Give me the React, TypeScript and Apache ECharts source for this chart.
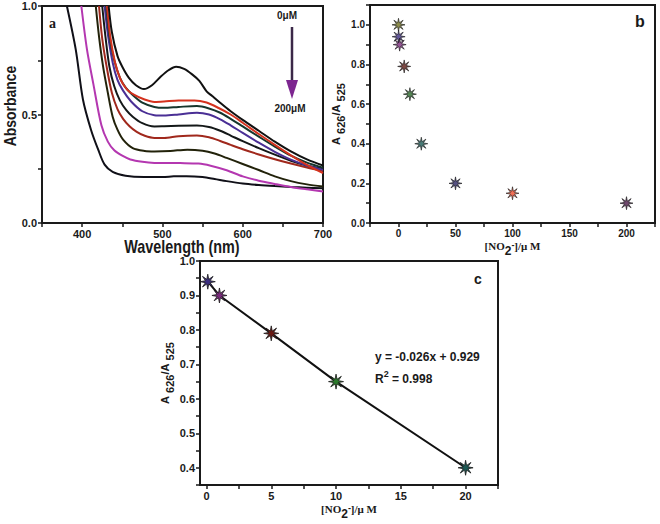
import React, { useEffect, useRef } from "react";
import * as echarts from "echarts";

// ---- Panel a: absorption spectra (wavelength nm, absorbance) ----
const concentrationsUM = ["0", "0.1", "1", "5", "10", "20", "50", "100", "200"];
const spectrum0 = [[433, 1.0], [437, 0.88], [444, 0.77], [450, 0.72], [458, 0.67], [467, 0.635], [477, 0.617], [487, 0.635], [498, 0.675], [508, 0.705], [517, 0.72], [527, 0.71], [537, 0.685], [546, 0.655], [555, 0.607], [562, 0.585], [570, 0.56], [585, 0.515], [600, 0.475], [620, 0.425], [640, 0.375], [660, 0.33], [680, 0.293], [700, 0.265]];
const spectrum01 = [[431, 1.0], [435, 0.86], [441, 0.74], [448, 0.66], [456, 0.615], [465, 0.59], [477, 0.57], [490, 0.558], [502, 0.56], [520, 0.565], [540, 0.565], [555, 0.555], [570, 0.53], [585, 0.5], [600, 0.462], [620, 0.41], [640, 0.36], [660, 0.312], [680, 0.268], [700, 0.23]];
const spectrum1 = [[430, 1.0], [434, 0.86], [440, 0.75], [447, 0.67], [454, 0.625], [463, 0.59], [475, 0.555], [490, 0.535], [502, 0.531], [520, 0.535], [543, 0.539], [558, 0.528], [572, 0.508], [585, 0.48], [600, 0.445], [620, 0.398], [640, 0.352], [660, 0.31], [680, 0.278], [700, 0.255]];
const spectrum5 = [[428, 1.0], [432, 0.87], [438, 0.74], [444, 0.66], [451, 0.61], [461, 0.56], [475, 0.515], [490, 0.497], [502, 0.495], [520, 0.5], [543, 0.508], [558, 0.5], [572, 0.478], [585, 0.45], [600, 0.415], [620, 0.37], [640, 0.328], [660, 0.292], [680, 0.265], [700, 0.245]];
const spectrum10 = [[425, 1.0], [429, 0.86], [434, 0.72], [440, 0.63], [447, 0.565], [455, 0.52], [463, 0.49], [475, 0.46], [490, 0.445], [502, 0.446], [520, 0.448], [543, 0.449], [558, 0.442], [572, 0.425], [585, 0.403], [600, 0.377], [620, 0.345], [640, 0.315], [660, 0.287], [680, 0.265], [700, 0.25]];
const spectrum20 = [[421, 1.0], [425, 0.85], [431, 0.71], [437, 0.6], [444, 0.525], [451, 0.48], [459, 0.446], [468, 0.42], [478, 0.402], [490, 0.392], [502, 0.392], [520, 0.4], [543, 0.403], [558, 0.395], [572, 0.378], [585, 0.36], [600, 0.34], [620, 0.316], [640, 0.294], [660, 0.274], [680, 0.256], [700, 0.24]];
const spectrum50 = [[417, 1.0], [421, 0.86], [426, 0.723], [432, 0.6], [438, 0.49], [444, 0.43], [451, 0.384], [463, 0.345], [478, 0.332], [490, 0.33], [510, 0.332], [531, 0.338], [550, 0.333], [565, 0.32], [580, 0.3], [600, 0.272], [620, 0.244], [640, 0.215], [660, 0.193], [680, 0.178], [700, 0.168]];
const spectrum100 = [[399, 1.0], [406, 0.8], [414, 0.64], [424, 0.45], [432, 0.375], [440, 0.335], [450, 0.31], [460, 0.293], [475, 0.282], [490, 0.277], [522, 0.276], [545, 0.274], [560, 0.264], [580, 0.243], [600, 0.215], [620, 0.195], [640, 0.18], [660, 0.166], [680, 0.155], [700, 0.145]];
const spectrum200 = [[381, 1.0], [392, 0.8], [401, 0.569], [411, 0.43], [420, 0.338], [428, 0.269], [438, 0.236], [454, 0.218], [477, 0.212], [500, 0.212], [514, 0.215], [530, 0.216], [550, 0.212], [565, 0.203], [580, 0.193], [600, 0.182], [620, 0.175], [640, 0.17], [660, 0.166], [680, 0.163], [700, 0.16]];
const spectra = [spectrum0, spectrum01, spectrum1, spectrum5, spectrum10, spectrum20, spectrum50, spectrum100, spectrum200];
const spectrumColors = ["#111111", "#d4321e", "#16352c", "#4a2f95", "#141818", "#a0281c", "#22220a", "#b437b0", "#101018"];

// ---- Panel b: ratio vs nitrite ----
const nitriteUM = [0, 0.1, 1, 5, 10, 20, 50, 100, 200];
const ratioValues = [1.0, 0.94, 0.9, 0.79, 0.65, 0.4, 0.2, 0.15, 0.1];
const ratioColors = ["#6e6e1e", "#3c2e80", "#7a2a7c", "#5c1a14", "#2c6a2c", "#1c5a55", "#2a2662", "#ee4a2a", "#4c1c4a"];

// ---- Panel c: linear range ----
const linearX = [0.1, 1, 5, 10, 20];
const linearY = [0.94, 0.9, 0.79, 0.65, 0.4];
const linearColors = ["#3c2e80", "#7a2a7c", "#6a1a14", "#2c7a2c", "#1c5a55"];

const xLabelC = [0, 5, 10, 15, 20];
const xTickC = [0, 2.5, 5, 7.5, 10, 12.5, 15, 17.5, 20, 22.5];

const STAR = "path://M10 0L11.3 6.9L17.07 2.93L13.1 8.7L20 10L13.1 11.3L17.07 17.07L11.3 13.1L10 20L8.7 13.1L2.93 17.07L6.9 11.3L0 10L6.9 8.7L2.93 2.93L8.7 6.9Z";

const SANS = "Liberation Sans, Arial, sans-serif";
const SERIF = "Liberation Serif, Times New Roman, serif";
const INK = "#1a1a1a";

function axisBase(fontSize: number) {
  return {
    axisLine: { show: true, onZero: false, lineStyle: { color: INK, width: 2 } },
    axisTick: { show: true, length: 4, lineStyle: { color: INK, width: 1.5 } },
    axisLabel: { color: INK, fontWeight: "bold", fontSize, fontFamily: SANS, margin: 5 },
    splitLine: { show: false },
  };
}

const ratioName = {
  formatter: "{a|A}{s| 626}{a|/A}{s| 525}",
  rich: {
    a: { fontFamily: SANS, fontWeight: "bold", fontSize: 11, color: INK, lineHeight: 16, verticalAlign: "top" },
    s: { fontFamily: SANS, fontWeight: "bold", fontSize: 11, color: INK, lineHeight: 16, verticalAlign: "bottom", padding: [5, 0, 0, 0] },
  },
};

const nitriteName = {
  formatter: "{t|[NO}{sub|2}{sup|-}{t|]/μ M}",
  rich: {
    t: { fontFamily: SERIF, fontWeight: "bold", fontSize: 11, color: INK, lineHeight: 16, verticalAlign: "top" },
    sub: { fontFamily: SANS, fontWeight: "bold", fontSize: 12, color: INK, lineHeight: 16, verticalAlign: "bottom", padding: [6, 0, 0, 0] },
    sup: { fontFamily: SANS, fontWeight: "bold", fontSize: 9, color: INK, lineHeight: 16, verticalAlign: "top" },
  },
};

export default function App() {
  const ref = useRef<HTMLDivElement>(null);
  useEffect(() => {
    if (!ref.current) return;
    const chart = echarts.init(ref.current, undefined, { renderer: "svg" });
    const frame = { show: true, borderColor: INK, borderWidth: 2, backgroundColor: "transparent" };
    const option: any = {
      animation: false,
      backgroundColor: "#ffffff",
      grid: [
        { left: 42, top: 6, width: 281, height: 217, ...frame },
        { left: 370, top: 5, width: 285, height: 218, ...frame },
        { left: 200, top: 261, width: 298, height: 224, ...frame },
      ],
      xAxis: [
        {
          gridIndex: 0, type: "value", min: 350, max: 700, interval: 50,
          ...axisBase(11),
          axisLabel: { ...axisBase(11).axisLabel, formatter: (v: number) => (v % 100 === 0 ? String(v) : "") },
        },
        {
          gridIndex: 1, type: "value", min: -25, max: 225, interval: 25,
          ...axisBase(10),
          axisLabel: { ...axisBase(10).axisLabel, formatter: (v: number) => (v % 50 === 0 ? String(v) : "") },
          name: nitriteName.formatter, nameLocation: "middle", nameGap: 16,
          nameTextStyle: { rich: nitriteName.rich },
        },
        {
          gridIndex: 2, type: "value", min: -0.5, max: 22.5,
          ...axisBase(11),
          axisTick: { ...axisBase(11).axisTick, customValues: xTickC },
          axisLabel: { ...axisBase(11).axisLabel, customValues: xLabelC, formatter: (v: number) => String(v) },
          name: nitriteName.formatter, nameLocation: "middle", nameGap: 17,
          nameTextStyle: { rich: nitriteName.rich },
        },
      ],
      yAxis: [
        {
          gridIndex: 0, type: "value", min: 0, max: 1, interval: 0.25,
          ...axisBase(11),
          axisLabel: { ...axisBase(11).axisLabel, formatter: (v: number) => (Math.round(v * 100) % 50 === 0 ? v.toFixed(1) : "") },
        },
        {
          gridIndex: 1, type: "value", min: 0, max: 1.1, interval: 0.1,
          ...axisBase(10),
          axisLabel: { ...axisBase(10).axisLabel, formatter: (v: number) => (Math.round(v * 10) % 2 === 0 && v < 1.05 ? v.toFixed(1) : "") },
          name: ratioName.formatter, nameLocation: "middle", nameGap: 24, nameRotate: 90,
          nameTextStyle: { rich: ratioName.rich },
        },
        {
          gridIndex: 2, type: "value", min: 0.35, max: 1.0, interval: 0.05,
          ...axisBase(11),
          axisLabel: { ...axisBase(11).axisLabel, formatter: (v: number) => (Math.round(v * 100) % 10 === 0 ? v.toFixed(1) : "") },
          name: ratioName.formatter, nameLocation: "middle", nameGap: 23, nameRotate: 90,
          nameTextStyle: { rich: ratioName.rich },
        },
      ],
      series: [
        ...spectra.map((d, i) => ({
          type: "line", name: concentrationsUM[i] + " μM", xAxisIndex: 0, yAxisIndex: 0,
          data: d, showSymbol: false, smooth: 0.3, clip: true,
          lineStyle: { color: spectrumColors[i], width: 2 }, z: 2 + (9 - i),
        })),
        {
          type: "scatter", xAxisIndex: 1, yAxisIndex: 1, symbol: STAR, symbolSize: 13,
          data: nitriteUM.map((x, i) => ({ value: [x, ratioValues[i]], itemStyle: { color: ratioColors[i], borderColor: "#1a1a1a", borderWidth: 0.8 } })),
        },
        {
          type: "line", xAxisIndex: 2, yAxisIndex: 2, symbol: STAR, symbolSize: 15,
          lineStyle: { color: "#111111", width: 2 },
          data: linearX.map((x, i) => ({ value: [x, linearY[i]], itemStyle: { color: linearColors[i], borderColor: "#1a1a1a", borderWidth: 0.8 } })),
          z: 5,
        },
      ],
      graphic: [
        { type: "text", x: 182, y: 246, scaleX: 0.8, style: { text: "Wavelength (nm)", fontFamily: SANS, fontWeight: "bold", fontSize: 18, fill: INK, align: "center", verticalAlign: "middle" } },
        { type: "text", x: 10, y: 106, rotation: Math.PI / 2, scaleX: 0.82, style: { text: "Absorbance", fontFamily: SANS, fontWeight: "bold", fontSize: 17, fill: INK, align: "center", verticalAlign: "middle" } },
        { type: "text", left: 49, top: 16, style: { text: "a", fontFamily: SERIF, fontWeight: "bold", fontSize: 14, fill: INK } },
        { type: "text", x: 287, y: 15, style: { text: "0μM", fontFamily: SANS, fontWeight: "bold", fontSize: 10, fill: INK, align: "center", verticalAlign: "middle" } },
        { type: "line", shape: { x1: 292, y1: 27, x2: 292, y2: 86 }, style: { stroke: "#3b2848", lineWidth: 2.5 } },
        { type: "polygon", shape: { points: [[286, 80], [298, 80], [292, 99]] }, style: { fill: "#7d2690" } },
        { type: "text", x: 290, y: 108, style: { text: "200μM", fontFamily: SANS, fontWeight: "bold", fontSize: 10, fill: INK, align: "center", verticalAlign: "middle" } },
        { type: "text", x: 640, y: 21, style: { text: "b", fontFamily: SANS, fontWeight: "bold", fontSize: 16, fill: INK, align: "center", verticalAlign: "middle" } },
        { type: "text", x: 478, y: 279, style: { text: "c", fontFamily: SANS, fontWeight: "bold", fontSize: 14, fill: INK, align: "center", verticalAlign: "middle" } },
        { type: "text", x: 375, y: 357, style: { text: "y = -0.026x + 0.929", fontFamily: SANS, fontWeight: "bold", fontSize: 12, fill: INK, verticalAlign: "middle" } },
        {
          type: "text", x: 375, y: 377,
          style: {
            text: "{r|R}{p|2}{r| = 0.998}",
            rich: {
              r: { fontFamily: SANS, fontWeight: "bold", fontSize: 12, fill: INK, lineHeight: 16, verticalAlign: "bottom" },
              p: { fontFamily: SANS, fontWeight: "bold", fontSize: 9, fill: INK, lineHeight: 16, verticalAlign: "top" },
            },
            verticalAlign: "middle",
          },
        },
      ],
    };
    chart.setOption(option);
    return () => chart.dispose();
  }, []);
  return <div ref={ref} style={{ position: "fixed", left: 0, top: 0, width: 660, height: 524, background: "#fff" }} />;
}
